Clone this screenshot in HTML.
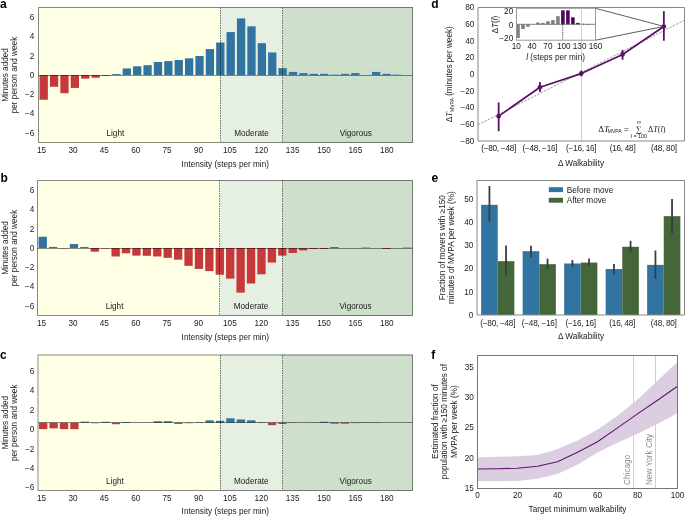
<!DOCTYPE html>
<html><head><meta charset="utf-8"><title>Figure</title>
<style>
html,body{margin:0;padding:0;background:#fff;}
body{width:685px;height:516px;overflow:hidden;}
svg{display:block;will-change:transform;}
.t{font-family:"Liberation Sans", sans-serif;font-size:8.2px;fill:#1a1a1a;}
.tk{letter-spacing:-0.25px;}
.pl{font-family:"Liberation Sans", sans-serif;font-size:12px;font-weight:bold;fill:#000;}
</style></head>
<body>
<svg width="685" height="516" viewBox="0 0 685 516">
<rect x="0" y="0" width="685" height="516" fill="#fff"/>
<rect x="38.0" y="7.0" width="182.31" height="136.0" fill="#FFFFE6"/>
<rect x="220.31" y="7.0" width="62.33" height="136.0" fill="#E5F0E3"/>
<rect x="282.64" y="7.0" width="130.36" height="136.0" fill="#CEE0CB"/>
<rect x="39.54" y="75.00" width="8.31" height="24.78" fill="#C6383A"/>
<rect x="49.93" y="75.00" width="8.31" height="11.76" fill="#C6383A"/>
<rect x="60.32" y="75.00" width="8.31" height="18.22" fill="#C6383A"/>
<rect x="70.71" y="75.00" width="8.31" height="12.92" fill="#C6383A"/>
<rect x="81.09" y="75.00" width="8.31" height="3.66" fill="#C6383A"/>
<rect x="91.48" y="75.00" width="8.31" height="2.70" fill="#C6383A"/>
<rect x="101.87" y="75.00" width="8.31" height="0.77" fill="#C6383A"/>
<rect x="112.26" y="74.04" width="8.31" height="0.96" fill="#3274A1"/>
<rect x="122.65" y="68.44" width="8.31" height="6.56" fill="#3274A1"/>
<rect x="133.04" y="66.32" width="8.31" height="8.68" fill="#3274A1"/>
<rect x="143.43" y="65.16" width="8.31" height="9.84" fill="#3274A1"/>
<rect x="153.82" y="61.98" width="8.31" height="13.02" fill="#3274A1"/>
<rect x="164.21" y="61.11" width="8.31" height="13.89" fill="#3274A1"/>
<rect x="174.59" y="59.96" width="8.31" height="15.04" fill="#3274A1"/>
<rect x="184.98" y="58.32" width="8.31" height="16.68" fill="#3274A1"/>
<rect x="195.37" y="56.00" width="8.31" height="19.00" fill="#3274A1"/>
<rect x="205.76" y="49.06" width="8.31" height="25.94" fill="#3274A1"/>
<rect x="216.15" y="42.50" width="8.31" height="32.50" fill="#3274A1"/>
<rect x="226.54" y="32.09" width="8.31" height="42.91" fill="#3274A1"/>
<rect x="236.93" y="18.40" width="8.31" height="56.60" fill="#3274A1"/>
<rect x="247.32" y="26.30" width="8.31" height="48.70" fill="#3274A1"/>
<rect x="257.71" y="43.18" width="8.31" height="31.82" fill="#3274A1"/>
<rect x="268.09" y="52.44" width="8.31" height="22.56" fill="#3274A1"/>
<rect x="278.48" y="68.15" width="8.31" height="6.85" fill="#3274A1"/>
<rect x="288.87" y="71.91" width="8.31" height="3.09" fill="#3274A1"/>
<rect x="299.26" y="73.07" width="8.31" height="1.93" fill="#3274A1"/>
<rect x="309.65" y="73.84" width="8.31" height="1.16" fill="#3274A1"/>
<rect x="320.04" y="73.84" width="8.31" height="1.16" fill="#3274A1"/>
<rect x="330.43" y="74.61" width="8.31" height="0.39" fill="#3274A1"/>
<rect x="340.82" y="73.84" width="8.31" height="1.16" fill="#3274A1"/>
<rect x="351.21" y="73.07" width="8.31" height="1.93" fill="#3274A1"/>
<rect x="371.98" y="71.91" width="8.31" height="3.09" fill="#3274A1"/>
<rect x="382.37" y="73.84" width="8.31" height="1.16" fill="#3274A1"/>
<rect x="392.76" y="74.61" width="8.31" height="0.39" fill="#3274A1"/>
<line x1="38.5" x2="412.5" y1="75.5" y2="75.5" stroke="rgba(0,0,0,0.46)" stroke-width="1"/>
<line x1="220.5" x2="220.5" y1="7.5" y2="142.5" stroke="rgba(0,0,0,0.55)" stroke-width="1" stroke-dasharray="1.5 1"/>
<line x1="282.5" x2="282.5" y1="7.5" y2="142.5" stroke="rgba(0,0,0,0.55)" stroke-width="1" stroke-dasharray="1.5 1"/>
<rect x="38.5" y="7.5" width="374.0" height="135.0" fill="none" stroke="rgba(0,0,0,0.46)" stroke-width="1"/>
<text x="115.38" y="136.20" text-anchor="middle" class="t">Light</text>
<text x="251.47" y="136.20" text-anchor="middle" class="t">Moderate</text>
<text x="355.78" y="136.20" text-anchor="middle" class="t">Vigorous</text>
<text x="34.3" y="19.94" text-anchor="end" class="t">6</text>
<text x="34.3" y="39.23" text-anchor="end" class="t">4</text>
<text x="34.3" y="58.51" text-anchor="end" class="t">2</text>
<text x="34.3" y="77.80" text-anchor="end" class="t">0</text>
<text x="34.3" y="97.09" text-anchor="end" class="t">−2</text>
<text x="34.3" y="116.37" text-anchor="end" class="t">−4</text>
<text x="34.3" y="135.66" text-anchor="end" class="t">−6</text>
<text x="41.55" y="153" text-anchor="middle" class="t">15</text>
<text x="72.94" y="153" text-anchor="middle" class="t">30</text>
<text x="104.32" y="153" text-anchor="middle" class="t">45</text>
<text x="135.71" y="153" text-anchor="middle" class="t">60</text>
<text x="167.09" y="153" text-anchor="middle" class="t">75</text>
<text x="198.48" y="153" text-anchor="middle" class="t">90</text>
<text x="229.87" y="153" text-anchor="middle" class="t">105</text>
<text x="261.25" y="153" text-anchor="middle" class="t">120</text>
<text x="292.64" y="153" text-anchor="middle" class="t">135</text>
<text x="324.02" y="153" text-anchor="middle" class="t">150</text>
<text x="355.41" y="153" text-anchor="middle" class="t">165</text>
<text x="386.80" y="153" text-anchor="middle" class="t">180</text>
<text x="225.3" y="167" text-anchor="middle" class="t">Intensity (steps per min)</text>
<text transform="translate(7.9,75.00) rotate(-90)" text-anchor="middle" class="t">Minutes added</text>
<text transform="translate(16.8,75.00) rotate(-90)" text-anchor="middle" class="t">per person and week</text>
<text x="0" y="7.9" class="pl">a</text>
<rect x="37.0" y="180.0" width="182.79" height="136.0" fill="#FFFFE6"/>
<rect x="219.79" y="180.0" width="62.50" height="136.0" fill="#E5F0E3"/>
<rect x="282.29" y="180.0" width="130.71" height="136.0" fill="#CEE0CB"/>
<rect x="38.54" y="236.72" width="8.33" height="11.28" fill="#3274A1"/>
<rect x="48.96" y="246.94" width="8.33" height="1.06" fill="#3274A1"/>
<rect x="59.38" y="248.00" width="8.33" height="0.29" fill="#C6383A"/>
<rect x="69.79" y="244.05" width="8.33" height="3.95" fill="#3274A1"/>
<rect x="80.21" y="246.94" width="8.33" height="1.06" fill="#3274A1"/>
<rect x="90.62" y="248.00" width="8.33" height="3.66" fill="#C6383A"/>
<rect x="101.04" y="248.00" width="8.33" height="0.48" fill="#C6383A"/>
<rect x="111.46" y="248.00" width="8.33" height="8.49" fill="#C6383A"/>
<rect x="121.87" y="248.00" width="8.33" height="5.30" fill="#C6383A"/>
<rect x="132.29" y="248.00" width="8.33" height="7.62" fill="#C6383A"/>
<rect x="142.71" y="248.00" width="8.33" height="7.81" fill="#C6383A"/>
<rect x="153.12" y="248.00" width="8.33" height="8.49" fill="#C6383A"/>
<rect x="163.54" y="248.00" width="8.33" height="9.84" fill="#C6383A"/>
<rect x="173.96" y="248.00" width="8.33" height="11.67" fill="#C6383A"/>
<rect x="184.38" y="248.00" width="8.33" height="17.84" fill="#C6383A"/>
<rect x="194.79" y="248.00" width="8.33" height="20.92" fill="#C6383A"/>
<rect x="205.21" y="248.00" width="8.33" height="23.14" fill="#C6383A"/>
<rect x="215.62" y="248.00" width="8.33" height="26.71" fill="#C6383A"/>
<rect x="226.04" y="248.00" width="8.33" height="30.66" fill="#C6383A"/>
<rect x="236.46" y="248.00" width="8.33" height="44.65" fill="#C6383A"/>
<rect x="246.88" y="248.00" width="8.33" height="35.49" fill="#C6383A"/>
<rect x="257.29" y="248.00" width="8.33" height="26.32" fill="#C6383A"/>
<rect x="267.71" y="248.00" width="8.33" height="14.56" fill="#C6383A"/>
<rect x="278.12" y="248.00" width="8.33" height="7.62" fill="#C6383A"/>
<rect x="288.54" y="248.00" width="8.33" height="5.01" fill="#C6383A"/>
<rect x="298.96" y="248.00" width="8.33" height="2.41" fill="#C6383A"/>
<rect x="309.37" y="248.00" width="8.33" height="0.96" fill="#C6383A"/>
<rect x="319.79" y="248.00" width="8.33" height="0.96" fill="#C6383A"/>
<rect x="330.21" y="247.04" width="8.33" height="0.96" fill="#3274A1"/>
<rect x="361.46" y="247.52" width="8.33" height="0.48" fill="#3274A1"/>
<rect x="382.29" y="248.00" width="8.33" height="0.96" fill="#C6383A"/>
<rect x="403.12" y="247.52" width="8.33" height="0.48" fill="#3274A1"/>
<line x1="37.5" x2="412.5" y1="248.5" y2="248.5" stroke="rgba(0,0,0,0.46)" stroke-width="1"/>
<line x1="219.5" x2="219.5" y1="180.5" y2="315.5" stroke="rgba(0,0,0,0.55)" stroke-width="1" stroke-dasharray="1.5 1"/>
<line x1="282.5" x2="282.5" y1="180.5" y2="315.5" stroke="rgba(0,0,0,0.55)" stroke-width="1" stroke-dasharray="1.5 1"/>
<rect x="37.5" y="180.5" width="375.0" height="135.0" fill="none" stroke="rgba(0,0,0,0.46)" stroke-width="1"/>
<text x="114.58" y="309.20" text-anchor="middle" class="t">Light</text>
<text x="251.04" y="309.20" text-anchor="middle" class="t">Moderate</text>
<text x="355.62" y="309.20" text-anchor="middle" class="t">Vigorous</text>
<text x="34.3" y="192.94" text-anchor="end" class="t">6</text>
<text x="34.3" y="212.23" text-anchor="end" class="t">4</text>
<text x="34.3" y="231.51" text-anchor="end" class="t">2</text>
<text x="34.3" y="250.80" text-anchor="end" class="t">0</text>
<text x="34.3" y="270.09" text-anchor="end" class="t">−2</text>
<text x="34.3" y="289.37" text-anchor="end" class="t">−4</text>
<text x="34.3" y="308.66" text-anchor="end" class="t">−6</text>
<text x="41.55" y="326" text-anchor="middle" class="t">15</text>
<text x="72.94" y="326" text-anchor="middle" class="t">30</text>
<text x="104.32" y="326" text-anchor="middle" class="t">45</text>
<text x="135.71" y="326" text-anchor="middle" class="t">60</text>
<text x="167.09" y="326" text-anchor="middle" class="t">75</text>
<text x="198.48" y="326" text-anchor="middle" class="t">90</text>
<text x="229.87" y="326" text-anchor="middle" class="t">105</text>
<text x="261.25" y="326" text-anchor="middle" class="t">120</text>
<text x="292.64" y="326" text-anchor="middle" class="t">135</text>
<text x="324.02" y="326" text-anchor="middle" class="t">150</text>
<text x="355.41" y="326" text-anchor="middle" class="t">165</text>
<text x="386.80" y="326" text-anchor="middle" class="t">180</text>
<text x="225.3" y="340" text-anchor="middle" class="t">Intensity (steps per min)</text>
<text transform="translate(7.9,248.00) rotate(-90)" text-anchor="middle" class="t">Minutes added</text>
<text transform="translate(16.8,248.00) rotate(-90)" text-anchor="middle" class="t">per person and week</text>
<text x="0.6" y="181.5" class="pl">b</text>
<rect x="37.5" y="354.5" width="182.55" height="136.5" fill="#FFFFE6"/>
<rect x="220.05" y="354.5" width="62.42" height="136.5" fill="#E5F0E3"/>
<rect x="282.47" y="354.5" width="130.53" height="136.5" fill="#CEE0CB"/>
<rect x="39.04" y="422.75" width="8.32" height="6.39" fill="#C6383A"/>
<rect x="49.44" y="422.75" width="8.32" height="5.61" fill="#C6383A"/>
<rect x="59.85" y="422.75" width="8.32" height="6.39" fill="#C6383A"/>
<rect x="70.25" y="422.75" width="8.32" height="6.39" fill="#C6383A"/>
<rect x="80.65" y="421.69" width="8.32" height="1.06" fill="#3274A1"/>
<rect x="91.05" y="422.75" width="8.32" height="0.48" fill="#C6383A"/>
<rect x="101.46" y="421.78" width="8.32" height="0.97" fill="#3274A1"/>
<rect x="111.86" y="422.75" width="8.32" height="1.45" fill="#C6383A"/>
<rect x="122.26" y="421.98" width="8.32" height="0.77" fill="#3274A1"/>
<rect x="132.67" y="422.56" width="8.32" height="0.19" fill="#3274A1"/>
<rect x="143.07" y="422.75" width="8.32" height="0.19" fill="#C6383A"/>
<rect x="153.47" y="421.20" width="8.32" height="1.55" fill="#3274A1"/>
<rect x="163.87" y="421.20" width="8.32" height="1.55" fill="#3274A1"/>
<rect x="174.28" y="422.75" width="8.32" height="1.16" fill="#C6383A"/>
<rect x="184.68" y="422.75" width="8.32" height="0.48" fill="#C6383A"/>
<rect x="195.08" y="422.27" width="8.32" height="0.48" fill="#3274A1"/>
<rect x="205.48" y="420.33" width="8.32" height="2.42" fill="#3274A1"/>
<rect x="215.89" y="420.81" width="8.32" height="1.94" fill="#3274A1"/>
<rect x="226.29" y="418.30" width="8.32" height="4.45" fill="#3274A1"/>
<rect x="236.69" y="419.46" width="8.32" height="3.29" fill="#3274A1"/>
<rect x="247.10" y="420.33" width="8.32" height="2.42" fill="#3274A1"/>
<rect x="257.50" y="422.27" width="8.32" height="0.48" fill="#3274A1"/>
<rect x="267.90" y="422.75" width="8.32" height="2.42" fill="#C6383A"/>
<rect x="278.30" y="422.75" width="8.32" height="1.26" fill="#C6383A"/>
<rect x="288.71" y="422.75" width="8.32" height="0.29" fill="#C6383A"/>
<rect x="309.51" y="422.56" width="8.32" height="0.19" fill="#3274A1"/>
<rect x="319.92" y="421.78" width="8.32" height="0.97" fill="#3274A1"/>
<rect x="330.32" y="422.75" width="8.32" height="0.97" fill="#C6383A"/>
<rect x="340.72" y="422.75" width="8.32" height="0.97" fill="#C6383A"/>
<rect x="351.12" y="422.75" width="8.32" height="0.39" fill="#C6383A"/>
<rect x="361.53" y="422.46" width="8.32" height="0.29" fill="#3274A1"/>
<rect x="371.93" y="422.75" width="8.32" height="0.29" fill="#C6383A"/>
<line x1="38.0" x2="412.5" y1="422.5" y2="422.5" stroke="rgba(0,0,0,0.46)" stroke-width="1"/>
<line x1="220.5" x2="220.5" y1="355.0" y2="490.5" stroke="rgba(0,0,0,0.55)" stroke-width="1" stroke-dasharray="1.5 1"/>
<line x1="282.5" x2="282.5" y1="355.0" y2="490.5" stroke="rgba(0,0,0,0.55)" stroke-width="1" stroke-dasharray="1.5 1"/>
<rect x="38.0" y="355.0" width="374.5" height="135.5" fill="none" stroke="rgba(0,0,0,0.46)" stroke-width="1"/>
<text x="114.98" y="484.20" text-anchor="middle" class="t">Light</text>
<text x="251.26" y="484.20" text-anchor="middle" class="t">Moderate</text>
<text x="355.70" y="484.20" text-anchor="middle" class="t">Vigorous</text>
<text x="34.3" y="374.13" text-anchor="end" class="t">6</text>
<text x="34.3" y="393.49" text-anchor="end" class="t">4</text>
<text x="34.3" y="412.84" text-anchor="end" class="t">2</text>
<text x="34.3" y="432.20" text-anchor="end" class="t">0</text>
<text x="34.3" y="451.56" text-anchor="end" class="t">−2</text>
<text x="34.3" y="470.91" text-anchor="end" class="t">−4</text>
<text x="34.3" y="490.27" text-anchor="end" class="t">−6</text>
<text x="41.55" y="501" text-anchor="middle" class="t">15</text>
<text x="72.94" y="501" text-anchor="middle" class="t">30</text>
<text x="104.32" y="501" text-anchor="middle" class="t">45</text>
<text x="135.71" y="501" text-anchor="middle" class="t">60</text>
<text x="167.09" y="501" text-anchor="middle" class="t">75</text>
<text x="198.48" y="501" text-anchor="middle" class="t">90</text>
<text x="229.87" y="501" text-anchor="middle" class="t">105</text>
<text x="261.25" y="501" text-anchor="middle" class="t">120</text>
<text x="292.64" y="501" text-anchor="middle" class="t">135</text>
<text x="324.02" y="501" text-anchor="middle" class="t">150</text>
<text x="355.41" y="501" text-anchor="middle" class="t">165</text>
<text x="386.80" y="501" text-anchor="middle" class="t">180</text>
<text x="225.3" y="514" text-anchor="middle" class="t">Intensity (steps per min)</text>
<text transform="translate(7.9,422.75) rotate(-90)" text-anchor="middle" class="t">Minutes added</text>
<text transform="translate(16.8,422.75) rotate(-90)" text-anchor="middle" class="t">per person and week</text>
<text x="0" y="358.7" class="pl">c</text>
<line x1="581.5" x2="581.5" y1="7.5" y2="141.0" stroke="#d0d0d0" stroke-width="1"/>
<line x1="478.0" y1="124.8" x2="684.5" y2="20.2" stroke="#808080" stroke-width="0.8" stroke-dasharray="2.4 1.3"/>
<line x1="595.5" y1="8.3" x2="663.9" y2="26.44" stroke="#333" stroke-width="0.8"/>
<line x1="595.5" y1="40.2" x2="663.9" y2="26.44" stroke="#333" stroke-width="0.8"/>
<polyline points="498.65,116.14 539.95,87.27 581.25,73.58 622.55,54.47 663.85,26.44" fill="none" stroke="#5C0F66" stroke-width="1.75" stroke-linejoin="round"/>
<line x1="498.65" x2="498.65" y1="102.45" y2="131.24" stroke="#5C0F66" stroke-width="1.8"/>
<circle cx="498.65" cy="116.14" r="2.3" fill="#5C0F66"/>
<line x1="539.95" x2="539.95" y1="81.93" y2="91.94" stroke="#5C0F66" stroke-width="1.8"/>
<circle cx="539.95" cy="87.27" r="2.3" fill="#5C0F66"/>
<line x1="581.25" x2="581.25" y1="70.58" y2="76.34" stroke="#5C0F66" stroke-width="1.8"/>
<circle cx="581.25" cy="73.58" r="2.3" fill="#5C0F66"/>
<line x1="622.55" x2="622.55" y1="49.89" y2="59.73" stroke="#5C0F66" stroke-width="1.8"/>
<circle cx="622.55" cy="54.47" r="2.3" fill="#5C0F66"/>
<line x1="663.85" x2="663.85" y1="11.17" y2="40.71" stroke="#5C0F66" stroke-width="1.8"/>
<circle cx="663.85" cy="26.44" r="2.3" fill="#5C0F66"/>
<line x1="478.0" x2="478.0" y1="7.5" y2="141.0" stroke="#888" stroke-width="1"/>
<line x1="478.0" x2="684.5" y1="141.0" y2="141.0" stroke="#888" stroke-width="1"/>
<line x1="478.0" x2="684.5" y1="7.5" y2="7.5" stroke="#888" stroke-width="1"/>
<line x1="684.5" x2="684.5" y1="7.5" y2="141.0" stroke="#888" stroke-width="1"/>
<text x="474.3" y="10.30" text-anchor="end" class="t">80</text>
<text x="474.3" y="26.99" text-anchor="end" class="t">60</text>
<text x="474.3" y="43.67" text-anchor="end" class="t">40</text>
<text x="474.3" y="60.36" text-anchor="end" class="t">20</text>
<text x="474.3" y="77.05" text-anchor="end" class="t">0</text>
<text x="474.3" y="93.74" text-anchor="end" class="t">−20</text>
<text x="474.3" y="110.43" text-anchor="end" class="t">−40</text>
<text x="474.3" y="127.11" text-anchor="end" class="t">−60</text>
<text x="474.3" y="143.80" text-anchor="end" class="t">−80</text>
<text x="498.65" y="150.9" text-anchor="middle" class="t tk">(−80, −48]</text>
<text x="539.95" y="150.9" text-anchor="middle" class="t tk">(−48, −16]</text>
<text x="581.25" y="150.9" text-anchor="middle" class="t tk">(−16, 16]</text>
<text x="622.55" y="150.9" text-anchor="middle" class="t tk">(16, 48]</text>
<text x="663.85" y="150.9" text-anchor="middle" class="t tk">(48, 80]</text>
<text x="581" y="165.6" text-anchor="middle" class="t">Δ Walkability</text>
<text transform="translate(452.2,74.2) rotate(-90)" text-anchor="middle" class="t">Δ<tspan style="font-family:'Liberation Serif',serif;font-style:italic;font-size:8.5px">T</tspan><tspan style="font-size:5px" dy="1.6">MVPA</tspan><tspan dy="-1.6"> (minutes per week)</tspan></text>
<text x="598.2" y="131.9" style="font-family:'Liberation Serif',serif;font-size:9px;fill:#1a1a1a">Δ<tspan style="font-style:italic">T</tspan></text>
<text x="607.8" y="133.2" class="t" style="font-size:5px">MVPA</text>
<text x="623.9" y="132.0" class="t">=</text>
<text x="639.0" y="131.9" text-anchor="middle" style="font-family:'Liberation Serif',serif;font-size:8.5px;fill:#1a1a1a">∑</text>
<text x="638.9" y="124.2" text-anchor="middle" class="t" style="font-size:6px">∞</text>
<text x="638.9" y="137.6" text-anchor="middle" class="t" style="font-size:5.3px"><tspan style="font-style:italic">l</tspan> = 100</text>
<text x="647.9" y="131.9" style="font-family:'Liberation Serif',serif;font-size:8.2px;fill:#1a1a1a">Δ<tspan style="font-style:italic">T</tspan>(<tspan style="font-style:italic">l</tspan>)</text>
<rect x="516.5" y="8.3" width="79.0" height="31.900000000000002" fill="#fff"/>
<rect x="516.20" y="24.40" width="3.6" height="13.59" fill="#808080"/>
<rect x="521.19" y="24.40" width="3.6" height="4.62" fill="#808080"/>
<rect x="526.18" y="24.40" width="3.6" height="2.42" fill="#808080"/>
<rect x="531.17" y="24.40" width="3.6" height="0.21" fill="#808080"/>
<rect x="536.16" y="22.47" width="3.6" height="1.93" fill="#808080"/>
<rect x="541.15" y="22.95" width="3.6" height="1.45" fill="#808080"/>
<rect x="546.14" y="21.23" width="3.6" height="3.17" fill="#808080"/>
<rect x="551.13" y="20.12" width="3.6" height="4.28" fill="#808080"/>
<rect x="556.12" y="16.19" width="3.6" height="8.21" fill="#808080"/>
<rect x="561.11" y="10.32" width="3.6" height="14.08" fill="#4B0A55"/>
<rect x="566.10" y="10.32" width="3.6" height="14.08" fill="#4B0A55"/>
<rect x="571.09" y="17.29" width="3.6" height="7.11" fill="#4B0A55"/>
<rect x="576.08" y="22.88" width="3.6" height="1.52" fill="#4B0A55"/>
<rect x="581.07" y="23.78" width="3.6" height="0.62" fill="#4B0A55"/>
<rect x="586.06" y="23.99" width="3.6" height="0.41" fill="#4B0A55"/>
<line x1="516.5" x2="595.5" y1="24.3" y2="24.3" stroke="#666" stroke-width="0.8"/>
<line x1="562.7" x2="562.7" y1="24.4" y2="40.2" stroke="#333" stroke-width="0.8" stroke-dasharray="1.5 1"/>
<rect x="516.5" y="8.3" width="79.0" height="31.900000000000002" fill="none" stroke="#999" stroke-width="1"/>
<line x1="581.5" x2="581.5" y1="8.3" y2="40.2" stroke="#d0d0d0" stroke-width="1"/>
<text x="513.2" y="13.70" text-anchor="end" class="t">20</text>
<text x="513.2" y="27.50" text-anchor="end" class="t">0</text>
<text x="513.2" y="41.30" text-anchor="end" class="t">−20</text>
<text x="516.20" y="49.4" text-anchor="middle" class="t">10</text>
<text x="532.06" y="49.4" text-anchor="middle" class="t">40</text>
<text x="547.92" y="49.4" text-anchor="middle" class="t">70</text>
<text x="563.78" y="49.4" text-anchor="middle" class="t">100</text>
<text x="579.64" y="49.4" text-anchor="middle" class="t">130</text>
<text x="595.50" y="49.4" text-anchor="middle" class="t">160</text>
<text x="555.6" y="60" text-anchor="middle" class="t"><tspan font-style="italic">l</tspan> (steps per min)</text>
<text transform="translate(498.0,24.7) rotate(-90)" text-anchor="middle" class="t">Δ<tspan font-style="italic">T</tspan>(<tspan font-style="italic">l</tspan>)</text>
<text x="431.3" y="7.8" class="pl">d</text>
<rect x="481.15" y="204.80" width="16.60" height="110.20" fill="#3274A1"/>
<rect x="497.75" y="261.18" width="16.60" height="53.82" fill="#456638"/>
<rect x="522.65" y="251.20" width="16.60" height="63.80" fill="#3274A1"/>
<rect x="539.25" y="264.19" width="16.60" height="50.81" fill="#456638"/>
<rect x="564.15" y="263.50" width="16.60" height="51.50" fill="#3274A1"/>
<rect x="580.75" y="262.57" width="16.60" height="52.43" fill="#456638"/>
<rect x="605.65" y="269.06" width="16.60" height="45.94" fill="#3274A1"/>
<rect x="622.25" y="246.79" width="16.60" height="68.21" fill="#456638"/>
<rect x="647.15" y="264.89" width="16.60" height="50.11" fill="#3274A1"/>
<rect x="663.75" y="216.17" width="16.60" height="98.83" fill="#456638"/>
<line x1="489.45" x2="489.45" y1="186.01" y2="221.74" stroke="#3c3c3c" stroke-width="1.8"/>
<line x1="506.05" x2="506.05" y1="245.40" y2="275.33" stroke="#3c3c3c" stroke-width="1.8"/>
<line x1="530.95" x2="530.95" y1="245.63" y2="257.00" stroke="#3c3c3c" stroke-width="1.8"/>
<line x1="547.55" x2="547.55" y1="258.62" y2="269.53" stroke="#3c3c3c" stroke-width="1.8"/>
<line x1="572.45" x2="572.45" y1="260.02" y2="266.98" stroke="#3c3c3c" stroke-width="1.8"/>
<line x1="589.05" x2="589.05" y1="258.39" y2="265.58" stroke="#3c3c3c" stroke-width="1.8"/>
<line x1="613.95" x2="613.95" y1="263.96" y2="274.40" stroke="#3c3c3c" stroke-width="1.8"/>
<line x1="630.55" x2="630.55" y1="240.76" y2="252.36" stroke="#3c3c3c" stroke-width="1.8"/>
<line x1="655.45" x2="655.45" y1="250.50" y2="278.81" stroke="#3c3c3c" stroke-width="1.8"/>
<line x1="672.05" x2="672.05" y1="199.00" y2="233.57" stroke="#3c3c3c" stroke-width="1.8"/>
<line x1="477.0" x2="477.0" y1="180.5" y2="315.0" stroke="#888" stroke-width="1"/>
<line x1="477.0" x2="684.5" y1="315.0" y2="315.0" stroke="#888" stroke-width="1"/>
<line x1="477.0" x2="684.5" y1="180.5" y2="180.5" stroke="#888" stroke-width="1"/>
<line x1="684.5" x2="684.5" y1="180.5" y2="315.0" stroke="#888" stroke-width="1"/>
<text x="473.4" y="317.80" text-anchor="end" class="t">0</text>
<text x="473.4" y="294.60" text-anchor="end" class="t">10</text>
<text x="473.4" y="271.40" text-anchor="end" class="t">20</text>
<text x="473.4" y="248.20" text-anchor="end" class="t">30</text>
<text x="473.4" y="225.00" text-anchor="end" class="t">40</text>
<text x="473.4" y="201.80" text-anchor="end" class="t">50</text>
<text x="497.75" y="326.2" text-anchor="middle" class="t tk">(−80, −48]</text>
<text x="539.25" y="326.2" text-anchor="middle" class="t tk">(−48, −16]</text>
<text x="580.75" y="326.2" text-anchor="middle" class="t tk">(−16, 16]</text>
<text x="622.25" y="326.2" text-anchor="middle" class="t tk">(16, 48]</text>
<text x="663.75" y="326.2" text-anchor="middle" class="t tk">(48, 80]</text>
<text x="581" y="338.7" text-anchor="middle" class="t">Δ Walkability</text>
<rect x="548.8" y="187.2" width="14.2" height="4.9" fill="#3274A1"/>
<rect x="548.8" y="197.8" width="14.2" height="4.9" fill="#456638"/>
<text x="566.8" y="192.6" class="t">Before move</text>
<text x="566.8" y="202.9" class="t">After move</text>
<text transform="translate(444.9,247.7) rotate(-90)" text-anchor="middle" class="t">Fraction of movers with ≥150</text>
<text transform="translate(454.1,247.7) rotate(-90)" text-anchor="middle" class="t">minutes of MVPA per week (%)</text>
<text x="431.5" y="181.6" class="pl">e</text>
<line x1="633.5" x2="633.5" y1="355.5" y2="488.5" stroke="#cfcfcf" stroke-width="1"/>
<line x1="655.5" x2="655.5" y1="355.5" y2="488.5" stroke="#cfcfcf" stroke-width="1"/>
<polygon points="477.50,457.44 497.50,456.83 517.50,456.22 537.50,455.00 557.50,448.92 577.50,440.39 597.50,429.43 617.50,415.72 637.50,399.59 657.50,380.71 677.50,361.83 677.50,413.29 657.50,423.95 637.50,433.69 617.50,442.82 597.50,452.57 577.50,464.75 557.50,473.88 537.50,478.76 517.50,480.89 497.50,481.19 477.50,481.19" fill="#DBCEE1"/>
<polyline points="477.50,469.07 497.50,468.71 517.50,468.22 537.50,466.21 557.50,461.83 577.50,452.26 597.50,441.73 617.50,427.90 637.50,413.90 657.50,400.19 677.50,386.19" fill="none" stroke="#62136D" stroke-width="1.1"/>
<text transform="translate(629.6,484.9) rotate(-90)" class="t" style="fill:#8a8a8a">Chicago</text>
<text transform="translate(651.6,484.9) rotate(-90)" class="t" style="fill:#8a8a8a">New York City</text>
<rect x="477.5" y="355.5" width="200.0" height="133.0" fill="none" stroke="#777" stroke-width="1"/>
<text x="473.8" y="491.30" text-anchor="end" class="t">15</text>
<text x="473.8" y="460.85" text-anchor="end" class="t">20</text>
<text x="473.8" y="430.40" text-anchor="end" class="t">25</text>
<text x="473.8" y="399.95" text-anchor="end" class="t">30</text>
<text x="473.8" y="369.50" text-anchor="end" class="t">35</text>
<text x="477.50" y="498.4" text-anchor="middle" class="t">0</text>
<text x="517.50" y="498.4" text-anchor="middle" class="t">20</text>
<text x="557.50" y="498.4" text-anchor="middle" class="t">40</text>
<text x="597.50" y="498.4" text-anchor="middle" class="t">60</text>
<text x="637.50" y="498.4" text-anchor="middle" class="t">80</text>
<text x="677.50" y="498.4" text-anchor="middle" class="t">100</text>
<text x="577.5" y="512.1" text-anchor="middle" class="t">Target minimum walkability</text>
<text transform="translate(438.0,421.6) rotate(-90)" text-anchor="middle" class="t">Estimated fraction of</text>
<text transform="translate(447.2,421.6) rotate(-90)" text-anchor="middle" class="t">population with ≥150 minutes of</text>
<text transform="translate(456.5,421.6) rotate(-90)" text-anchor="middle" class="t">MVPA per week (%)</text>
<text x="431.2" y="359" class="pl">f</text>
</svg>
</body></html>
